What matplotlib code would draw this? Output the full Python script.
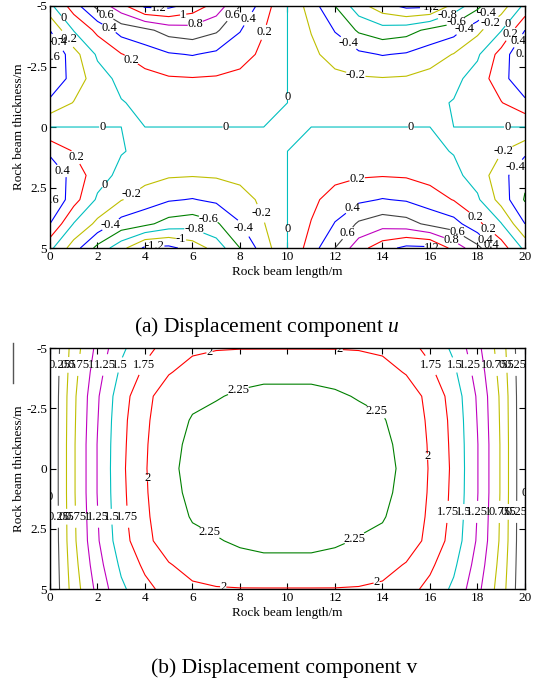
import numpy as np
import matplotlib.pyplot as plt

plt.rcParams['font.family'] = 'Liberation Serif'
plt.rcParams['mathtext.fontset'] = 'custom'
plt.rcParams['mathtext.rm'] = 'Liberation Serif'
plt.rcParams['mathtext.it'] = 'Liberation Serif:italic'

# grid of the rock beam (length x, thickness y)
x_m = [0, 1, 2, 3, 4, 5, 6, 7, 8, 9, 10, 11, 12, 13, 14, 15, 16, 17, 18, 19, 20]
y_m = [-5, -4, -3, -2, -1, 0, 1, 2, 3, 4, 5]

# displacement u, one row per thickness value
u_vals = [
    [-0.05, 0.30, 0.66, 0.93, 1.24, 1.25, 1.12, 0.92, 0.60, 0.30, 0.00, -0.30, -0.60, -0.92, -1.12, -1.25, -1.24, -0.93, -0.66, -0.30, 0.05],
    [-0.40, 0.01, 0.25, 0.48, 0.55, 0.68, 0.72, 0.63, 0.41, 0.21, 0.00, -0.21, -0.41, -0.63, -0.72, -0.68, -0.55, -0.48, -0.25, -0.01, 0.40],
    [-0.62, -0.28, 0.03, 0.19, 0.30, 0.38, 0.41, 0.36, 0.29, 0.15, 0.00, -0.15, -0.29, -0.36, -0.41, -0.38, -0.30, -0.19, -0.03, 0.28, 0.62],
    [-0.55, -0.33, -0.08, 0.05, 0.13, 0.18, 0.19, 0.18, 0.14, 0.07, 0.00, -0.07, -0.14, -0.18, -0.19, -0.18, -0.13, -0.05, 0.08, 0.33, 0.55],
    [-0.36, -0.19, -0.09, -0.01, 0.04, 0.07, 0.08, 0.07, 0.05, 0.02, 0.00, -0.02, -0.05, -0.07, -0.08, -0.07, -0.04, 0.01, 0.09, 0.19, 0.36],
    [0.00, 0.00, 0.00, 0.00, 0.00, 0.00, 0.00, 0.00, 0.00, 0.00, 0.00, 0.00, 0.00, 0.00, 0.00, 0.00, 0.00, 0.00, 0.00, 0.00, 0.00],
    [0.36, 0.19, 0.09, 0.01, -0.04, -0.07, -0.08, -0.07, -0.05, -0.02, 0.00, 0.02, 0.05, 0.07, 0.08, 0.07, 0.04, -0.01, -0.09, -0.19, -0.36],
    [0.55, 0.33, 0.08, -0.05, -0.13, -0.18, -0.19, -0.18, -0.14, -0.07, 0.00, 0.07, 0.14, 0.18, 0.19, 0.18, 0.13, 0.05, -0.08, -0.33, -0.55],
    [0.62, 0.28, -0.03, -0.19, -0.30, -0.38, -0.41, -0.36, -0.29, -0.15, 0.00, 0.15, 0.29, 0.36, 0.41, 0.38, 0.30, 0.19, 0.03, -0.28, -0.62],
    [0.40, -0.01, -0.25, -0.48, -0.55, -0.68, -0.72, -0.63, -0.41, -0.21, 0.00, 0.21, 0.41, 0.63, 0.72, 0.68, 0.55, 0.48, 0.25, 0.01, -0.40],
    [0.05, -0.30, -0.66, -0.93, -1.24, -1.25, -1.12, -0.92, -0.60, -0.30, 0.00, 0.30, 0.60, 0.92, 1.12, 1.25, 1.24, 0.93, 0.66, 0.30, -0.05],
]

# displacement v
v_vals = [
    [0, 0.62, 1.07, 1.45, 1.68, 1.84, 1.95, 1.98, 1.99, 1.99, 1.99, 1.99, 1.99, 1.98, 1.95, 1.84, 1.68, 1.45, 1.07, 0.62, 0],
    [0, 0.66, 1.15, 1.55, 1.80, 1.98, 2.10, 2.17, 2.20, 2.22, 2.22, 2.22, 2.20, 2.17, 2.10, 1.98, 1.80, 1.55, 1.15, 0.66, 0],
    [0, 0.70, 1.22, 1.65, 1.92, 2.15, 2.22, 2.24, 2.27, 2.28, 2.28, 2.28, 2.27, 2.24, 2.22, 2.15, 1.92, 1.65, 1.22, 0.70, 0],
    [0, 0.71, 1.24, 1.68, 1.95, 2.19, 2.26, 2.29, 2.31, 2.32, 2.32, 2.32, 2.31, 2.29, 2.26, 2.19, 1.95, 1.68, 1.24, 0.71, 0],
    [0, 0.72, 1.26, 1.69, 1.97, 2.21, 2.28, 2.31, 2.33, 2.34, 2.34, 2.34, 2.33, 2.31, 2.28, 2.21, 1.97, 1.69, 1.26, 0.72, 0],
    [0, 0.72, 1.26, 1.70, 1.98, 2.22, 2.29, 2.32, 2.34, 2.35, 2.35, 2.35, 2.34, 2.32, 2.29, 2.22, 1.98, 1.70, 1.26, 0.72, 0],
    [0, 0.72, 1.26, 1.69, 1.97, 2.21, 2.28, 2.31, 2.33, 2.34, 2.34, 2.34, 2.33, 2.31, 2.28, 2.21, 1.97, 1.69, 1.26, 0.72, 0],
    [0, 0.71, 1.24, 1.68, 1.95, 2.19, 2.26, 2.29, 2.31, 2.32, 2.32, 2.32, 2.31, 2.29, 2.26, 2.19, 1.95, 1.68, 1.24, 0.71, 0],
    [0, 0.70, 1.22, 1.65, 1.92, 2.15, 2.22, 2.24, 2.27, 2.28, 2.28, 2.28, 2.27, 2.24, 2.22, 2.15, 1.92, 1.65, 1.22, 0.70, 0],
    [0, 0.66, 1.15, 1.55, 1.80, 1.98, 2.10, 2.17, 2.20, 2.22, 2.22, 2.22, 2.20, 2.17, 2.10, 1.98, 1.80, 1.55, 1.15, 0.66, 0],
    [0, 0.62, 1.07, 1.45, 1.68, 1.84, 1.95, 1.98, 1.99, 1.99, 1.99, 1.99, 1.99, 1.98, 1.95, 1.84, 1.68, 1.45, 1.07, 0.62, 0],
]

u_levels = [-1.2, -1.0, -0.8, -0.6, -0.4, -0.2, 0, 0.2, 0.4, 0.6, 0.8, 1.0, 1.2]
u_colors = ['b', 'y', 'c', 'g', 'b', 'y', 'c', 'r', 'b', '#404040', 'm', 'r', 'b']
v_levels = [0, 0.25, 0.5, 0.75, 1.0, 1.25, 1.5, 1.75, 2.0, 2.25]
v_colors = ['#000050', '#505050', 'y', 'y', 'm', 'm', 'c', 'r', 'r', 'g']

y_ticks = [-5, -2.5, 0, 2.5, 5]
y_ticklabels = ['-5', '-2.5', '0', '2.5', '5']

# where the contour labels sit (approximately as in the original)
u_label_pos = [
    (0.55, -4.5), (2.4, -4.65), (4.6, -4.85), (5.6, -4.7), (6.1, -4.3), (7.7, -4.6), (8.3, -4.5), (9.05, -3.9),
    (0.75, -3.65), (0.33, -3.5), (0.03, -2.9), (2.5, -4.1), (3.4, -2.75), (2.2, 0), (7.4, 0), (10.0, -1.25),
    (16.0, -4.85), (16.7, -4.7), (17.05, -4.4), (17.4, -4.15), (18.5, -4.55), (18.65, -4.2), (19.15, -4.35),
    (19.3, -3.9), (19.5, -3.7), (19.9, -3.0), (12.55, -3.45), (12.85, -2.07), (15.2, 0), (19.25, 0),
    (1.1, 1.24), (0.4, 1.9), (0.1, 3.0), (2.3, 2.4), (3.4, 2.7), (2.45, 3.85), (6.6, 4.05), (8.2, 4.15),
    (6.0, 4.4), (5.5, 4.75), (4.4, 4.9), (8.8, 3.6), (10.0, 4.2),
    (12.95, 2.2), (12.75, 3.4), (12.55, 4.4), (17.05, 4.5), (16.85, 4.8), (16.1, 4.95), (18.0, 3.6),
    (18.5, 4.2), (18.5, 4.5), (18.4, 4.8), (19.1, 1.0), (19.6, 1.65),
]
v_label_pos = [
    (0.39, -4.3), (0.77, -4.3), (1.21, -4.3), (1.74, -4.3), (2.31, -4.3), (2.95, -4.3), (3.95, -4.3),
    (6.7, -4.9), (7.9, -3.3),
    (19.61, -4.3), (19.23, -4.3), (18.79, -4.3), (18.26, -4.3), (17.69, -4.3), (17.05, -4.3), (16.05, -4.3),
    (12.2, -4.9), (13.8, -2.45), (15.9, -0.5),
    (0.35, 2.0), (0.70, 2.0), (1.08, 2.0), (1.55, 2.0), (2.02, 2.0), (2.59, 2.0), (3.26, 2.0),
    (4.05, 0.4), (6.65, 2.8), (7.3, 4.8), (0.0, 1.2),
    (19.65, 1.8), (19.3, 1.8), (18.92, 1.8), (18.45, 1.8), (17.98, 1.8), (17.41, 1.8), (16.74, 1.8),
    (12.85, 2.95), (13.7, 4.5), (20.0, 1.0),
]

X, Y = np.meshgrid(x_m, y_m)

fig = plt.figure(figsize=(5.34, 6.89), dpi=100)
ax1 = fig.add_axes([0.0936, 0.640, 0.8895, 0.3513])
ax2 = fig.add_axes([0.0936, 0.1451, 0.8895, 0.3498])

for ax, Z, lev, col, pos in [(ax1, u_vals, u_levels, u_colors, u_label_pos),
                             (ax2, v_vals, v_levels, v_colors, v_label_pos)]:
    ax.set_xlim(0, 20)
    ax.set_ylim(5, -5)
    cs = ax.contour(X, Y, np.array(Z), levels=lev, colors=col, linewidths=0.8)
    labels = ax.clabel(cs, fmt='%g', fontsize=9, inline=True, inline_spacing=0,
                       colors='k', manual=pos)
    for t in labels:
        t.set_rotation(0)
    ax.set_xticks(range(0, 21, 2))
    ax.set_yticks(y_ticks)
    ax.set_yticklabels(y_ticklabels)
    ax.tick_params(direction='in', top=True, right=True, length=4, labelsize=9.5, pad=2)
    ax.set_xlabel('Rock beam length/m', fontsize=9.5, labelpad=2)
    ax.set_ylabel('Rock beam thickness/m', fontsize=9.5, labelpad=1)
    for s in ax.spines.values():
        s.set_linewidth(1.0)

fig.text(0.5, 1 - 327 / 689, '(a) Displacement component $u$', ha='center', va='center', fontsize=15.5)
fig.text(0.532, 1 - 668 / 689, '(b) Displacement component v', ha='center', va='center', fontsize=15.5)
fig.add_artist(plt.Line2D([12.5 / 534, 12.5 / 534], [1 - 343 / 689, 1 - 383 / 689], color='#555555', lw=1))

plt.savefig('out.png', dpi=100)
